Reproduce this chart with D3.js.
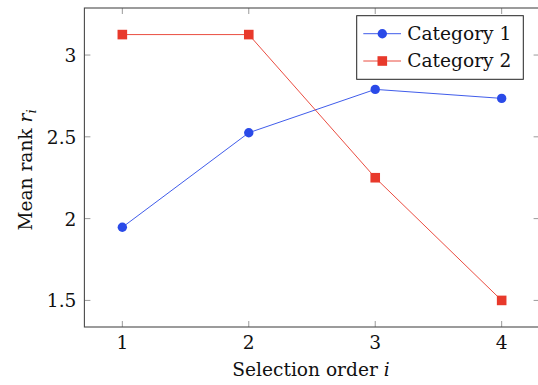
<!DOCTYPE html>
<html><head><meta charset="utf-8">
<script src="https://cdn.jsdelivr.net/npm/d3@7"></script>
<style>body{margin:0;background:#fff}svg{display:block}</style>
</head><body><svg id="c" width="538" height="385"></svg>
<script>
const categories = [1, 2, 3, 4];
const series1 = [1.947, 2.525, 2.79, 2.735];
const series2 = [3.125, 3.125, 2.25, 1.5];
const seriesNames = ["Category 1", "Category 2"];
const xTicks = [1, 2, 3, 4];
const yTicks = [1.5, 2, 2.5, 3];

const FONT = "'DejaVu Serif', serif";
const svg = d3.select("#c").attr("font-family", FONT);
const L = 84.4, R = 539.6, T = 8, B = 327;
const x = d3.scaleLinear().domain([0.7, 4.3]).range([L, R]);
const y = d3.scaleLinear().domain([1.3375, 3.2875]).range([B, T]);
const blue = "#2a4ae8", red = "#e8392b";
const tickC = "#9a9a9a", frameC = "#4a4a4a";
const FS = 18.6;

const g = svg.append("g");
xTicks.forEach(v => {
  g.append("line").attr("x1", x(v)).attr("x2", x(v)).attr("y1", B).attr("y2", B - 6).attr("stroke", tickC).attr("stroke-width", 1);
  g.append("line").attr("x1", x(v)).attr("x2", x(v)).attr("y1", T).attr("y2", T + 6).attr("stroke", tickC).attr("stroke-width", 1);
  g.append("text").attr("x", x(v)).attr("y", 348.5).attr("text-anchor", "middle").attr("font-size", FS).attr("fill", "#111").text(v);
});
yTicks.forEach(v => {
  g.append("line").attr("x1", L).attr("x2", L + 6).attr("y1", y(v)).attr("y2", y(v)).attr("stroke", tickC).attr("stroke-width", 1);
  g.append("line").attr("x1", R).attr("x2", R - 6).attr("y1", y(v)).attr("y2", y(v)).attr("stroke", tickC).attr("stroke-width", 1);
  g.append("text").attr("x", L - 8).attr("y", y(v) + 7).attr("text-anchor", "end").attr("font-size", FS).attr("fill", "#111").text(d3.format("")(v));
});
svg.append("rect").attr("x", L).attr("y", T).attr("width", R - L).attr("height", B - T)
  .attr("fill", "none").attr("stroke", frameC).attr("stroke-width", 1.1);

const line = d3.line().x((d, i) => x(categories[i])).y(d => y(d));
svg.append("path").datum(series1).attr("d", line).attr("fill", "none").attr("stroke", blue).attr("stroke-width", 0.9);
svg.append("path").datum(series2).attr("d", line).attr("fill", "none").attr("stroke", red).attr("stroke-width", 0.9);
svg.selectAll(".m1").data(series1).enter().append("circle")
  .attr("cx", (d, i) => x(categories[i])).attr("cy", d => y(d)).attr("r", 4.7).attr("fill", blue);
svg.selectAll(".m2").data(series2).enter().append("rect")
  .attr("x", (d, i) => x(categories[i]) - 4.8).attr("y", d => y(d) - 4.8).attr("width", 9.6).attr("height", 9.6).attr("fill", red);

svg.append("text").attr("x", 311).attr("y", 375.5).attr("text-anchor", "middle").attr("font-size", FS).attr("fill", "#111")
  .html('Selection order <tspan font-style="italic">i</tspan>');
svg.append("text").attr("transform", "translate(31.5,170) rotate(-90)").attr("text-anchor", "middle").attr("font-size", FS).attr("fill", "#111")
  .html('Mean rank <tspan font-style="italic">r</tspan><tspan font-style="italic" font-size="13" dy="4">i</tspan>');

const lg = svg.append("g");
lg.append("rect").attr("x", 356.7).attr("y", 15.7).attr("width", 166.6).attr("height", 63.6)
  .attr("fill", "#fff").attr("stroke", "#222").attr("stroke-width", 1);
[[blue, "c"], [red, "s"]].forEach(([c, t], i) => {
  const yy = 33.7 + i * 27.3;
  lg.append("line").attr("x1", 363.3).attr("x2", 401).attr("y1", yy).attr("y2", yy).attr("stroke", c).attr("stroke-width", 0.9);
  if (t === "c") lg.append("circle").attr("cx", 382.3).attr("cy", yy).attr("r", 4.7).attr("fill", c);
  else lg.append("rect").attr("x", 382.3 - 4.8).attr("y", yy - 4.8).attr("width", 9.6).attr("height", 9.6).attr("fill", c);
  lg.append("text").attr("x", 407.3).attr("y", yy + 5.8).attr("font-size", FS).attr("fill", "#111").text(seriesNames[i]);
});
</script></body></html>
